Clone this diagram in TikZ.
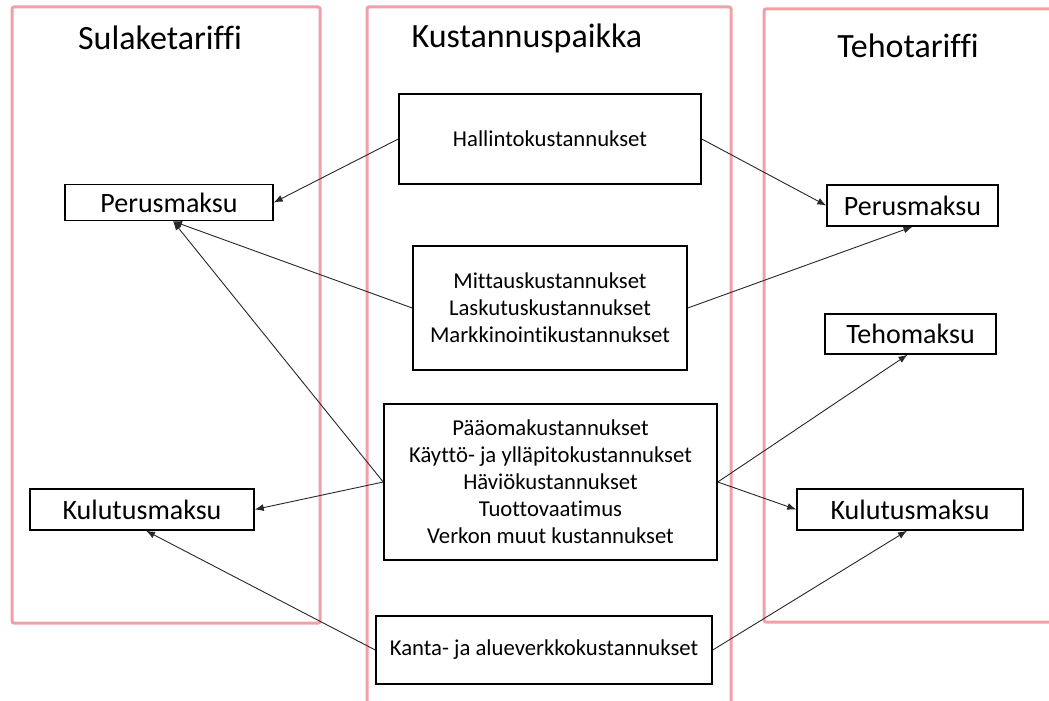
\documentclass[tikz,border=0pt]{standalone}
\usepackage{fontspec}
\setmainfont{Carlito}[Ligatures=NoCommon]
\usetikzlibrary{arrows.meta}
\definecolor{framepink}{RGB}{242,160,168}
\definecolor{arrowgray}{RGB}{40,40,40}
\tikzset{
  frame/.style={draw=framepink, line width=3pt, rounded corners=2pt},
  title/.style={anchor=base, font=\fontsize{34}{40}\selectfont},
  bigbox/.style={draw=black, line width=1.5pt, inner sep=0pt, align=center, font=\fontsize{28}{32}\selectfont},
  smallbox/.style={draw=black, line width=1.5pt, inner sep=0pt, align=center, font=\fontsize{22.7}{27}\selectfont},
  conn/.style={draw=arrowgray, line width=0.9pt, -{Latex[length=9pt,width=7pt]}}
}
\begin{document}
\begin{tikzpicture}[x=1pt,y=-1pt]
\useasboundingbox (0,0) rectangle (1049,701);
\clip (0,0) rectangle (1049,701);
\fill[white] (0,0) rectangle (1049,701);
% column frames
\draw[frame] (12,7) rectangle (320,623);
\draw[frame] (367,7) rectangle (731,720);
\draw[frame] (764,9) rectangle (1070,622);
% titles
\node[title] (t1) at (160,50) {Sulaketariffi};
\node[title] (t2) at (527,48) {Kustannuspaikka};
\node[title] (t3) at (908,57) {Tehotariffi};
% middle boxes
\node[smallbox, minimum width=302pt, minimum height=90pt] (hal) at (550,139) {Hallintokustannukset};
\node[smallbox, minimum width=274pt, minimum height=124pt] (mit) at (550,308) {Mittauskustannukset\\Laskutuskustannukset\\Markkinointikustannukset};
\node[smallbox, minimum width=333pt, minimum height=156pt] (paa) at (550.5,482) {Pääomakustannukset\\Käyttö- ja ylläpitokustannukset\\Häviökustannukset\\Tuottovaatimus\\Verkon muut kustannukset};
\node[smallbox, minimum width=336pt, minimum height=68pt] (kan) at (544,650) {Kanta- ja alueverkkokustannukset};
% left boxes
\node[bigbox, minimum width=208pt, minimum height=36pt] (lper) at (169,202.5) {Perusmaksu};
\node[bigbox, minimum width=224pt, minimum height=41pt] (lkul) at (142,509.5) {Kulutusmaksu};
% right boxes
\node[bigbox, minimum width=171pt, minimum height=41pt] (rper) at (912.5,205.5) {Perusmaksu};
\node[bigbox, minimum width=171pt, minimum height=40pt] (rteh) at (910.5,334) {Tehomaksu};
\node[bigbox, minimum width=226pt, minimum height=41pt] (rkul) at (910,509.5) {Kulutusmaksu};
% connectors
\draw[conn] (hal.west) -- (lper.east);
\draw[conn] (hal.east) -- (rper.west);
\draw[conn] (mit.west) -- ([xshift=4pt]lper.south);
\draw[conn] (mit.east) -- (rper.south);
\draw[conn] (paa.west) -- ([xshift=4pt]lper.south);
\draw[conn] (paa.west) -- (lkul.east);
\draw[conn] (paa.east) -- ([xshift=-3pt]rteh.south);
\draw[conn] (paa.east) -- (rkul.west);
\draw[conn] (kan.west) -- ([xshift=4pt]lkul.south);
\draw[conn] (kan.east) -- ([xshift=-3pt]rkul.south);
\end{tikzpicture}
\end{document}
